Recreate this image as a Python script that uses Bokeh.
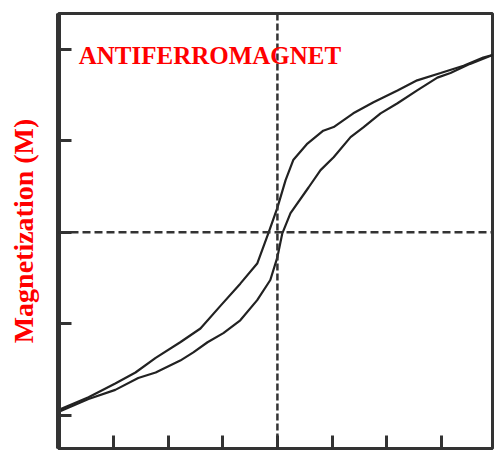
from bokeh.plotting import figure
from bokeh.models import FixedTicker, Label, Span, Range1d
from bokeh.embed import file_html
from bokeh.resources import INLINE

# Hysteresis loop (field H in arbitrary units, magnetization M in arbitrary units)
h_upper = [-3.97, -3.46, -2.97, -2.60, -2.23, -1.78, -1.41, -1.04, -0.68, -0.37, -0.16,
           0.00, 0.15, 0.29, 0.55, 0.84, 1.03, 1.39, 1.76, 2.20, 2.56, 2.99, 3.41, 3.77, 3.96]
m_upper = [-1.93, -1.80, -1.65, -1.53, -1.37, -1.20, -1.05, -0.80, -0.56, -0.34, 0.00,
           0.27, 0.57, 0.79, 0.97, 1.11, 1.15, 1.30, 1.42, 1.55, 1.66, 1.74, 1.82, 1.91, 1.94]

h_lower = [-3.97, -3.46, -2.97, -2.55, -2.23, -1.78, -1.54, -1.28, -0.99, -0.68, -0.37,
           -0.13, 0.00, 0.09, 0.24, 0.57, 0.79, 1.03, 1.34, 1.58, 1.89, 2.20, 2.56, 2.93,
           3.17, 3.53, 3.96]
m_lower = [-1.95, -1.82, -1.72, -1.59, -1.53, -1.40, -1.31, -1.20, -1.10, -0.96, -0.74,
           -0.52, -0.27, -0.01, 0.21, 0.49, 0.68, 0.82, 1.04, 1.15, 1.30, 1.41, 1.55, 1.69,
           1.74, 1.84, 1.94]

x_ticks = [-3, -2, -1, 0, 1, 2, 3]
y_ticks = [-2, -1, 0, 1, 2]

title_text = "ANTIFERROMAGNET"
y_label = "Magnetization (M)"

p = figure(width=496, height=451, output_backend="svg", toolbar_location=None,
           x_range=Range1d(-4.01, 3.94), y_range=Range1d(-2.36, 2.39),
           min_border_left=58, min_border_right=4, min_border_top=13, min_border_bottom=3)

p.background_fill_color = "white"
p.border_fill_color = "white"
p.xgrid.visible = False
p.ygrid.visible = False
p.outline_line_color = "#333333"
p.outline_line_width = 3

# x axis: ticks only
p.xaxis.ticker = FixedTicker(ticks=x_ticks)
p.xaxis.major_label_overrides = {t: "" for t in x_ticks}
p.xaxis.major_label_text_font_size = "1px"
p.xaxis.major_label_standoff = 0
p.xaxis.major_tick_in = 13
p.xaxis.major_tick_out = 0
p.xaxis.minor_tick_line_color = None
p.xaxis.axis_line_color = "#333333"
p.xaxis.axis_line_width = 3
p.xaxis.major_tick_line_color = "#333333"
p.xaxis.major_tick_line_width = 3

# y axis
p.yaxis.ticker = FixedTicker(ticks=y_ticks)
p.yaxis.major_label_overrides = {t: "" for t in y_ticks}
p.yaxis.major_label_text_font_size = "1px"
p.yaxis.major_label_standoff = 0
p.yaxis.major_tick_in = 13
p.yaxis.major_tick_out = 0
p.yaxis.minor_tick_line_color = None
p.yaxis.axis_line_color = "#333333"
p.yaxis.axis_line_width = 5
p.yaxis.major_tick_line_color = "#333333"
p.yaxis.major_tick_line_width = 3
p.yaxis.axis_label = y_label
p.yaxis.axis_label_text_font = "Liberation Serif"
p.yaxis.axis_label_text_font_style = "bold"
p.yaxis.axis_label_text_font_size = "28px"
p.yaxis.axis_label_text_color = "#ff0000"
p.yaxis.axis_label_standoff = 20

# dashed zero lines
p.add_layout(Span(location=0, dimension="height", line_color="#333333",
                  line_width=2.5, line_dash="7 3"))
p.add_layout(Span(location=0, dimension="width", line_color="#333333",
                  line_width=2.5, line_dash="8 4"))

# loop branches
p.line(h_upper, m_upper, line_color="#222222", line_width=2.2)
p.line(h_lower, m_lower, line_color="#222222", line_width=2.2)

p.add_layout(Label(x=-3.64, y=1.93, text=title_text, text_font="Liberation Serif",
                   text_font_style="bold", text_font_size="25px", text_color="#ff0000",
                   text_baseline="alphabetic", text_align="left"))

open("out.html", "w").write(file_html(p, INLINE))
